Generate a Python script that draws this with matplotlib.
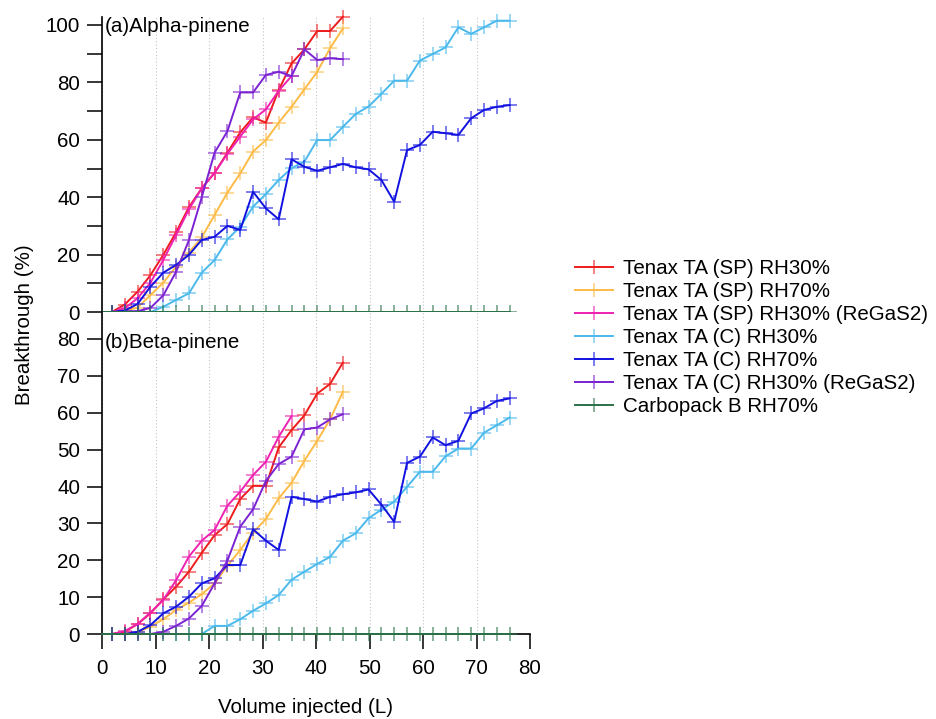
import matplotlib
matplotlib.use("Agg")
import matplotlib.pyplot as plt
from matplotlib.ticker import MultipleLocator
from matplotlib.colors import to_rgba
from matplotlib.lines import Line2D

plt.rcParams['font.family'] = ['Liberation Sans', 'DejaVu Sans']
plt.rcParams['font.size'] = 14.8

# volume injected (L); the first point (0) carries no marker
volume = [0, 1.8, 4.2, 6.6, 9.0, 11.4, 13.8, 16.2, 18.6, 21.0, 23.4, 25.8,
          28.2, 30.6, 33.0, 35.4, 37.8, 40.2, 42.6, 45.0, 47.4, 49.8, 52.2,
          54.6, 57.0, 59.4, 61.8, 64.2, 66.6, 69.0, 71.4, 73.8, 76.2]

labels = ['Tenax TA (SP) RH30%', 'Tenax TA (SP) RH70%',
          'Tenax TA (SP) RH30% (ReGaS2)', 'Tenax TA (C) RH30%',
          'Tenax TA (C) RH70%', 'Tenax TA (C) RH30% (ReGaS2)',
          'Carbopack B RH70%']

# (a) alpha-pinene breakthrough (%)
sp30_a = [0, 0, 2.6, 7.1, 12.8, 19.9, 27.8, 36.5, 43.1, 48.5, 55.5, 62.6,
          67.8, 66.0, 77.4, 86.6, 91.5, 97.9, 97.9, 102.9]
sp70_a = [0, 0, 0.5, 1.5, 5.9, 10.2, 15.8, 20.7, 26.0, 33.8, 41.6, 48.3,
          55.9, 59.9, 66.0, 71.5, 77.6, 83.7, 91.9, 98.8]
sp30_regas_a = [0, 0, 1.3, 4.8, 10.2, 18.1, 26.8, 35.8, 43.1, 48.5, 55.1,
                61.1, 67.1, 70.6, 77.1, 82.2]
c30_a = [0, 0, 0, 0, 0, 1.8, 4.2, 6.5, 13.7, 18.1, 25.3, 29.7, 36.7, 41.1,
         46.0, 50.1, 52.4, 59.9, 59.9, 64.5, 69.0, 71.6, 76.0, 80.6, 80.6,
         87.6, 89.9, 92.2, 99.2, 96.9, 99.2, 101.5, 101.5]
c70_a = [0, 0, 0.5, 2.8, 8.8, 13.7, 16.4, 19.9, 25.1, 26.2, 30.0, 28.6, 41.9,
         36.1, 32.3, 53.2, 50.6, 49.2, 50.4, 51.6, 50.4, 49.7, 46.0, 38.4,
         56.4, 58.2, 62.8, 62.3, 61.7, 67.5, 70.4, 71.5, 72.1]
c30_regas_a = [0, 0, 0, 0.3, 1.4, 5.8, 14.0, 25.0, 40.0, 55.5, 63.0, 76.5,
               76.5, 82.6, 83.7, 82.2, 91.5, 87.8, 88.4, 88.1]
carbo_a = [0] * 33

# (b) beta-pinene breakthrough (%)
sp30_b = [0, 0, 0.6, 2.7, 5.6, 9.4, 12.8, 16.9, 22.0, 26.8, 29.8, 36.6, 40.2,
          40.2, 50.6, 55.3, 59.3, 65.2, 67.8, 73.6]
sp70_b = [0, 0, 0, 0.5, 2.0, 4.0, 6.5, 8.5, 10.8, 13.7, 18.5, 22.8, 27.5,
          31.2, 36.8, 41.0, 47.0, 52.4, 58.2, 65.7]
sp30_regas_b = [0, 0, 0.8, 2.7, 5.8, 9.2, 14.6, 21.0, 25.3, 28.2, 34.8, 38.6,
                43.1, 46.7, 53.5, 59.1]
c30_b = [0, 0, 0, 0, 0, 0, 0, 0, 0, 2.2, 2.2, 4.0, 6.3, 8.3, 10.6, 14.7,
         16.9, 19.0, 20.9, 25.3, 27.3, 31.4, 33.7, 35.9, 39.9, 44.0, 44.0,
         48.2, 50.3, 50.3, 54.6, 56.6, 58.7]
c70_b = [0, 0, 0, 0.6, 2.4, 5.6, 7.4, 10.1, 13.7, 15.1, 18.7, 18.7, 28.4,
         25.3, 22.8, 37.2, 36.6, 35.9, 37.2, 37.9, 38.4, 39.2, 35.1, 30.4,
         46.4, 48.1, 53.3, 51.2, 52.4, 59.8, 61.2, 63.2, 63.9]
c30_regas_b = [0, 0, 0, 0, 0, 0.6, 2.2, 4.2, 7.6, 13.7, 19.9, 29.1, 33.8,
               41.5, 46.1, 48.1, 55.5, 56.0, 58.2, 59.6]
carbo_b = [0] * 33

colors = ['#ee1c1c', '#fdbb47', '#ee22b0', '#4bb9ec', '#1212e0', '#7b22d2',
          '#2b7048']
style = dict(lw=1.4, marker='+', ms=9.8, mew=1.2, clip_on=False, zorder=3)

W, H = 936, 719
fig = plt.figure(figsize=(W / 100, H / 100), dpi=100)
left, width = 102.3 / W, (530 - 102.3) / W
ax1 = fig.add_axes([left, 1 - 312 / H, width, (312 - 17) / H])
ax2 = fig.add_axes([left, 1 - 634 / H, width, (634 - 312) / H])


def draw(ax, series):
    for y, c in zip(series, colors):
        n = len(y)
        ax.plot(volume[:n], y, color=c, mec=to_rgba(c, 0.65),
                markevery=slice(1, None), **style)


draw(ax1, [sp30_a, sp70_a, sp30_regas_a, c30_a, c70_a, c30_regas_a, carbo_a])
draw(ax2, [sp30_b, sp70_b, sp30_regas_b, c30_b, c70_b, c30_regas_b, carbo_b])

for ax in (ax1, ax2):
    ax.set_xlim(0, 80)
    ax.xaxis.set_major_locator(MultipleLocator(10))
    ax.spines['top'].set_visible(False)
    ax.spines['right'].set_visible(False)
    for s in ax.spines.values():
        s.set_linewidth(1.2)
    ax.grid(axis='x', linestyle=(0, (1, 2)), color='#c4c4c4', lw=0.8)
    ax.set_axisbelow(True)
    ax.tick_params(which='major', direction='out', length=11, width=1.1,
                   labelsize=14.8)
    ax.tick_params(axis='y', which='both', pad=5)

ax1.set_ylim(0, 100 * (312 - 17) / 287)
ax1.yaxis.set_major_locator(MultipleLocator(20))
ax1.yaxis.set_minor_locator(MultipleLocator(10))
ax1.tick_params(axis='y', which='minor', direction='out', length=11, width=1.1)
ax1.spines['bottom'].set_visible(False)
ax1.tick_params(axis='x', which='both', bottom=False, labelbottom=False)

ax2.set_ylim(0, 80 * (634 - 312) / (634 - 339))
ax2.yaxis.set_major_locator(MultipleLocator(10))
ax2.tick_params(axis='x', pad=7)

fig.text(105 / W, 1 - 32 / H, '(a)Alpha-pinene', va='baseline', ha='left')
fig.text(105 / W, 1 - 348.5 / H, '(b)Beta-pinene', va='baseline', ha='left')
fig.text(25 / W, 1 - 325 / H, 'Breakthrough (%)', rotation=90,
         va='center', ha='center')
fig.text(306 / W, 1 - 713 / H, 'Volume injected (L)', va='baseline',
         ha='center')

handles = [Line2D([], [], color=c, mec=to_rgba(c, 0.65), lw=1.4, marker='+',
                  ms=9.8, mew=1.2) for c in colors]
fig.legend(handles, labels, loc='upper left',
           bbox_to_anchor=(575 / W, 1 - 259.5 / H), frameon=False,
           borderpad=0, borderaxespad=0, labelspacing=0.19,
           handlelength=1.86, handletextpad=0.49, markerscale=1,
           fontsize=14.8)

fig.savefig('out.png', dpi=100)
